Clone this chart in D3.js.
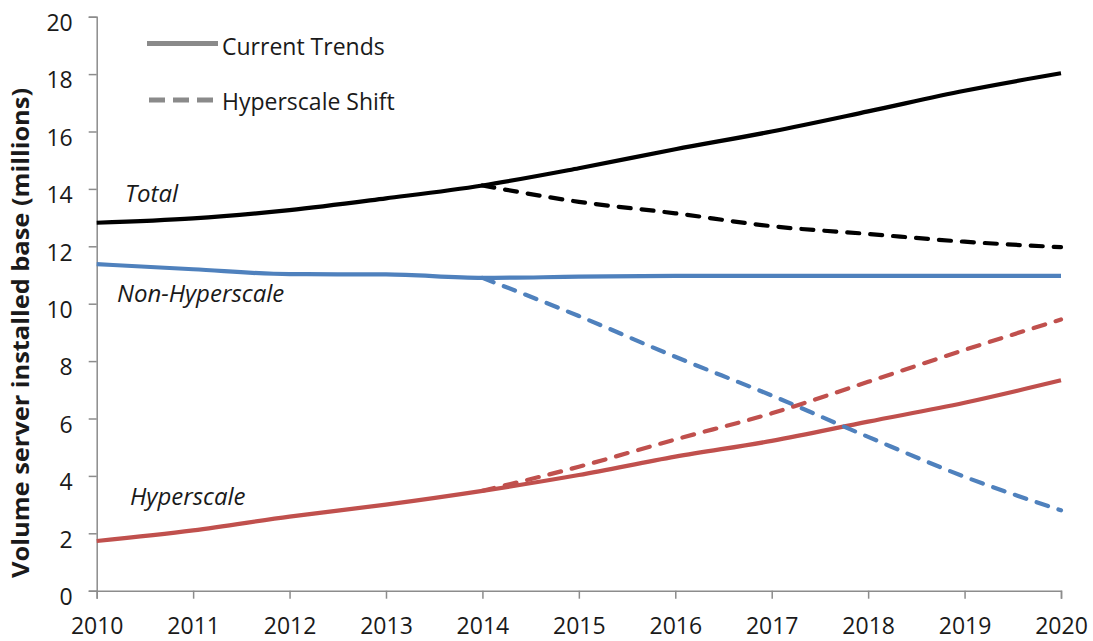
<!DOCTYPE html>
<html>
<head>
<meta charset="utf-8">
<script src="https://cdn.jsdelivr.net/npm/d3@7"></script>
<style>
  html, body { margin: 0; padding: 0; background: #fff; }
  svg { display: block; }
  text { font-family: "Open Sans", "DejaVu Sans", sans-serif; fill: #1a1a1a; }
</style>
</head>
<body>
<svg id="chart" width="1093" height="641"></svg>
<script>
// ---- Data ----
const years = [2010, 2011, 2012, 2013, 2014, 2015, 2016, 2017, 2018, 2019, 2020];
const shiftYears = [2014, 2015, 2016, 2017, 2018, 2019, 2020];

const totalCurrent = [12.82, 12.97, 13.26, 13.67, 14.12, 14.72, 15.38, 16.0, 16.7, 17.42, 18.03];
const nonHyperCurrent = [11.38, 11.2, 11.03, 11.02, 10.9, 10.94, 10.97, 10.97, 10.97, 10.97, 10.97];
const hyperCurrent = [1.73, 2.1, 2.58, 3.0, 3.48, 4.03, 4.67, 5.22, 5.89, 6.55, 7.33];

const totalShift = [14.12, 13.55, 13.15, 12.7, 12.43, 12.16, 11.97];
const nonHyperShift = [10.9, 9.57, 8.15, 6.8, 5.36, 3.97, 2.8];
const hyperShift = [3.48, 4.32, 5.27, 6.18, 7.28, 8.39, 9.45];

const yTicks = [0, 2, 4, 6, 8, 10, 12, 14, 16, 18, 20];
const seriesLabels = ["Total", "Non-Hyperscale", "Hyperscale"];
const legendLabels = ["Current Trends", "Hyperscale Shift"];
const yTitle = "Volume server installed base (millions)";

// ---- Chart ----
const svg = d3.select("#chart");
const x = d3.scaleLinear().domain([2010, 2020]).range([96.7, 1061]);
const y = d3.scaleLinear().domain([0, 20]).range([590.7, 16.7]);

const axisColor = "#8c8c8c";
const colors = { total: "#000000", non: "#4f81bd", hyper: "#c0504d" };

// Y axis
const yAxis = svg.append("g").attr("transform", `translate(${x(2010)},0)`)
  .call(d3.axisLeft(y).tickValues(yTicks).tickSize(8).tickPadding(16).tickFormat(d3.format("d")));
yAxis.select(".domain").attr("stroke", axisColor).attr("stroke-width", 1.5);
yAxis.selectAll(".tick line").attr("stroke", axisColor).attr("stroke-width", 1.5);
yAxis.selectAll(".tick text").attr("font-size", 23).attr("dy", "0.6em")
  .attr("font-family", "Open Sans").attr("fill", "#1a1a1a");

// X axis
const xAxis = svg.append("g").attr("transform", `translate(0,${y(0)})`)
  .call(d3.axisBottom(x).tickValues(years).tickSize(8).tickPadding(19).tickFormat(d3.format("d")));
xAxis.select(".domain").attr("stroke", axisColor).attr("stroke-width", 1.5);
xAxis.selectAll(".tick line").attr("stroke", axisColor).attr("stroke-width", 1.5);
xAxis.selectAll(".tick text").attr("font-size", 23)
  .attr("font-family", "Open Sans").attr("fill", "#1a1a1a");

// Lines
const line = d3.line().x(d => x(d[0])).y(d => y(d[1])).curve(d3.curveMonotoneX);
function draw(xs, vs, color, dashed) {
  svg.append("path")
    .datum(xs.map((yr, i) => [yr, vs[i]]))
    .attr("d", line)
    .attr("fill", "none")
    .attr("stroke", color)
    .attr("stroke-width", 4.2)
    .attr("stroke-linecap", dashed ? "round" : "butt")
    .attr("stroke-dasharray", dashed ? "12,11" : null);
}
draw(years, totalCurrent, colors.total, false);
draw(years, nonHyperCurrent, colors.non, false);
draw(years, hyperCurrent, colors.hyper, false);
draw(shiftYears, totalShift, colors.total, true);
draw(shiftYears, nonHyperShift, colors.non, true);
draw(shiftYears, hyperShift, colors.hyper, true);

// Series labels
const labelPos = [[125, 202], [117, 302], [130, 505]];
seriesLabels.forEach((t, i) => {
  svg.append("text").attr("x", labelPos[i][0]).attr("y", labelPos[i][1])
    .attr("font-size", 24).attr("font-style", "italic").text(t);
});

// Legend
const legendColor = "#8a8a8a";
svg.append("line").attr("x1", 147).attr("x2", 218).attr("y1", 43.5).attr("y2", 43.5)
  .attr("stroke", legendColor).attr("stroke-width", 5);
svg.append("line").attr("x1", 149).attr("x2", 213).attr("y1", 100).attr("y2", 100)
  .attr("stroke", legendColor).attr("stroke-width", 5).attr("stroke-dasharray", "16,8");
svg.append("text").attr("x", 222).attr("y", 55).attr("font-size", 23).text(legendLabels[0]);
svg.append("text").attr("x", 222).attr("y", 110).attr("font-size", 23).text(legendLabels[1]);

// Y title
svg.append("text")
  .attr("transform", `translate(29,${333}) rotate(-90)`)
  .attr("text-anchor", "middle")
  .attr("font-size", 24).attr("font-weight", "bold")
  .attr("textLength", 490).attr("lengthAdjust", "spacingAndGlyphs")
  .text(yTitle);
</script>
</body>
</html>
